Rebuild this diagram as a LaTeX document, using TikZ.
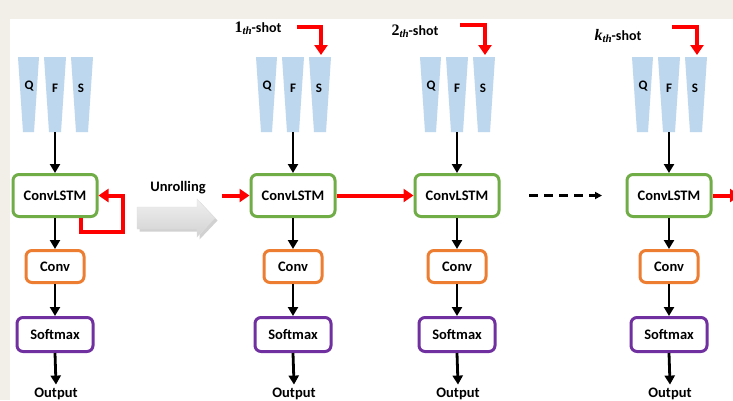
\documentclass[tikz,border=0pt]{standalone}
\usepackage{fontspec}
\setmainfont{Carlito}
\newfontfamily\mathserif{Liberation Serif}
\usetikzlibrary{arrows.meta,shadows}
\definecolor{bgbeige}{HTML}{F2EFE8}
\definecolor{trapblue}{HTML}{BDD7EE}
\definecolor{lstmgreen}{HTML}{70AD47}
\definecolor{convorange}{HTML}{ED7D31}
\definecolor{softpurple}{HTML}{7030A0}
\definecolor{arrred}{HTML}{FF0000}
\tikzset{
  blockbox/.style={draw, line width=3pt, rounded corners=6pt, fill=white, align=center,
    font=\fontsize{14.5}{16}\selectfont\bfseries, inner sep=0pt},
  lstmbox/.style={blockbox, draw=lstmgreen, minimum width=84pt, minimum height=42pt},
  convbox/.style={blockbox, draw=convorange, minimum width=58pt, minimum height=32pt},
  softbox/.style={blockbox, draw=softpurple, minimum width=76pt, minimum height=34pt},
  outlabel/.style={font=\fontsize{14.5}{16}\selectfont\bfseries},
  trap/.style={fill=trapblue},
  traplabel/.style={font=\fontsize{13}{15}\selectfont\bfseries},
  blackarrow/.style={draw=black, line width=2.8pt, -{Triangle[length=9pt,width=10pt]}},
  redarrow/.style={draw=arrred, line width=4pt, -{Triangle[length=10pt,width=13pt]}},
  shotlabel/.style={font=\fontsize{14}{16}\selectfont\bfseries},
}
\newcommand{\shotlbl}[1]{{\fontsize{16}{18}\selectfont\mathserif\bfseries #1}\raisebox{-0.35ex}{\fontsize{11}{12}\selectfont\mathserif\bfseries\itshape th}-shot}
\begin{document}
\begin{tikzpicture}[x=1pt,y=-1pt]
\fill[bgbeige] (0,0) rectangle (733,400);
\fill[white] (10,19) rectangle (733,400);
\useasboundingbox (0,0) rectangle (733,400);
\clip (0,0) rectangle (733,400);

% columns
\foreach \c/\i in {55/0,293/1,457/2,669/3}{
  \fill[trap] (\c-37,57) -- (\c-16,57) -- (\c-21,132) -- (\c-32,132) -- cycle;
  \fill[trap] (\c-11,57) -- (\c+11,57) -- (\c+6,132) -- (\c-6,132) -- cycle;
  \fill[trap] (\c+16,57) -- (\c+38,57) -- (\c+33,132) -- (\c+21,132) -- cycle;
  \node[traplabel] (q\i) at (\c-26,86) {Q};
  \node[traplabel] (f\i) at (\c,88) {F};
  \node[traplabel] (s\i) at (\c+26,88) {S};
  \coordinate (fb\i) at (\c,132);
  \coordinate (st\i) at (\c+28,55);
  \node[lstmbox] (lstm\i) at (\c,195.5) {ConvLSTM};
  \node[convbox] (conv\i) at (\c,266.5) {Conv};
  \node[softbox] (soft\i) at (\c,334.5) {Softmax};
  \node[outlabel] (out\i) at (\c+1,394) {Output};
  \draw[blackarrow] (fb\i) -- (lstm\i.north);
  \draw[blackarrow] (lstm\i.south) -- (conv\i.north);
  \draw[blackarrow] (conv\i.south) -- (soft\i.north);
  \draw[blackarrow] (soft\i.south) -- (out\i.north);
}

% recurrent loop
\draw[redarrow] ([xshift=-18pt]lstm0.south east) -- ++(0,14) -| ([xshift=24pt]lstm0.east) -- (lstm0.east);

% unrolling
\node[font=\fontsize{14.5}{16}\selectfont\bfseries] (unroll) at (178,188) {Unrolling};
\fill[black, opacity=0.18] (139.5,209.5) -- (199.5,209.5) -- (199.5,201.5) -- (217.5,220.5) -- (199.5,239.5) -- (199.5,231.5) -- (139.5,231.5) -- cycle;
\shade[top color=gray!12, bottom color=gray!35, draw=gray!25, line width=0.4pt]
  (137,207) -- (197,207) -- (197,199) -- (215,218) -- (197,237) -- (197,229) -- (137,229) -- cycle;

% chain
\coordinate (in1) at (222,195.5);
\draw[redarrow] (in1) -- (lstm1.west);
\draw[redarrow] (lstm1.east) -- (lstm2.west);
\coordinate (d0) at (529,195.5);
\coordinate (d1) at (602,195.5);
\draw[draw=black, line width=2.2pt, dash pattern=on 9pt off 6pt, -{Triangle[length=7pt,width=7pt]}] (d0) -- (d1);
\coordinate (outk) at (740,195.5);
\draw[redarrow] (lstm3.east) -- (outk);

% shots
\node[shotlabel] (shot1) at (258,28) {\shotlbl{1}};
\node[shotlabel] (shot2) at (415,31) {\shotlbl{2}};
\node[shotlabel] (shot3) at (618,36) {\shotlbl{\itshape k}};
\coordinate (a1) at (297,27);
\coordinate (a2) at (460,25);
\coordinate (a3) at (672,27);
\draw[redarrow] (a1) -| (st1);
\draw[redarrow] (a2) -| (st2);
\draw[redarrow] (a3) -| (st3);
\end{tikzpicture}
\end{document}
